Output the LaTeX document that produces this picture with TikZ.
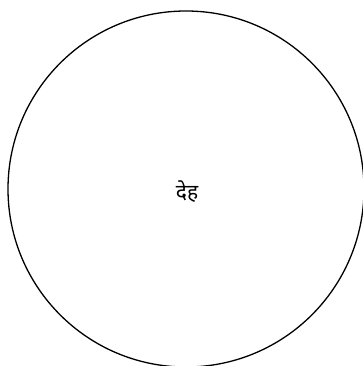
\documentclass[tikz,border=0pt]{standalone}
\usepackage{fontspec}
\newfontfamily\devfont[Script=Devanagari]{Noto Sans}
\usetikzlibrary{positioning}

\begin{document}
\begin{tikzpicture}[
  x=1pt, y=1pt,
  whole/.style={draw, circle, line width=1.3pt, minimum size=356pt,
                inner sep=0pt, align=center},
  lbl/.style={font=\devfont\fontsize{21}{24}\selectfont},
]
\useasboundingbox (0,0) rectangle (362,-366);

% ---- the one circle ---------------------------------------------
\node[whole] (deh) at (186,-189) {};
\node[lbl] (dehtext) at (187,-192) {देह};

\end{tikzpicture}
\end{document}
